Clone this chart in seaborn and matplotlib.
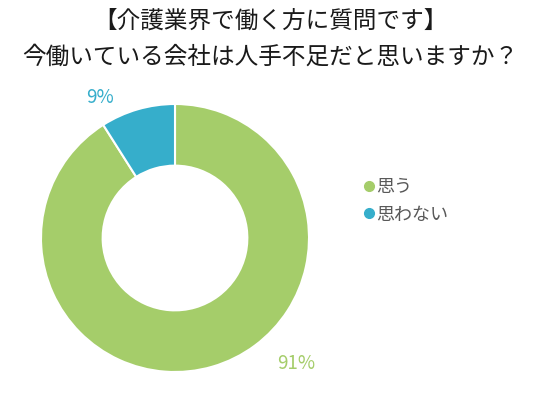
import numpy as np
import matplotlib
matplotlib.use("Agg")
import matplotlib.pyplot as plt
from matplotlib.lines import Line2D
import seaborn as sns

categories = ["思う", "思わない"]
values = [91, 9]
label_texts = ["91%", "9%"]
title_lines = ["【介護業界で働く方に質問です】", "今働いている会社は人手不足だと思いますか？"]

sns.set_style("white")
plt.rcParams['font.family'] = ['Noto Sans CJK JP', 'DejaVu Sans']

colors = ["#a5cd6a", "#36aecb"]
text_color = "#595959"

fig = plt.figure(figsize=(5.4, 4.0), dpi=100)
ax = fig.add_axes([41/540, 28/400, 268/540, 268/400])
wedges, _ = ax.pie(values, colors=colors, startangle=90, counterclock=False,
                   radius=1.0, wedgeprops=dict(width=0.46, edgecolor="white", linewidth=1.5))
ax.set_xlim(-1, 1)
ax.set_ylim(-1, 1)
ax.set_aspect("equal")
ax.axis("off")

# percentage labels
label_pos = [(-45.9, 1.30), (118.0, 1.19)]
for txt, (ang, r), c in zip(label_texts, label_pos, colors):
    a = np.deg2rad(ang)
    ax.text(r*np.cos(a), r*np.sin(a), txt, color=c, fontsize=13.5,
            ha="center", va="center")

fig.text(0.5, 1 - 21/400, title_lines[0], ha="center", va="center", fontsize=17, color="#1a1a1a")
fig.text(0.5, 1 - 57/400, title_lines[1], ha="center", va="center", fontsize=17, color="#1a1a1a")

handles = [Line2D([0], [0], marker="o", linestyle="", markersize=7,
                  markerfacecolor=c, markeredgecolor=c) for c in colors]
fig.legend(handles, categories, loc="center left", bbox_to_anchor=(346/540, 1 - 201/400),
           frameon=False, fontsize=13, labelcolor=text_color, handletextpad=0.05,
           handlelength=0.7, labelspacing=0.5)

fig.savefig("out.png", dpi=100)
